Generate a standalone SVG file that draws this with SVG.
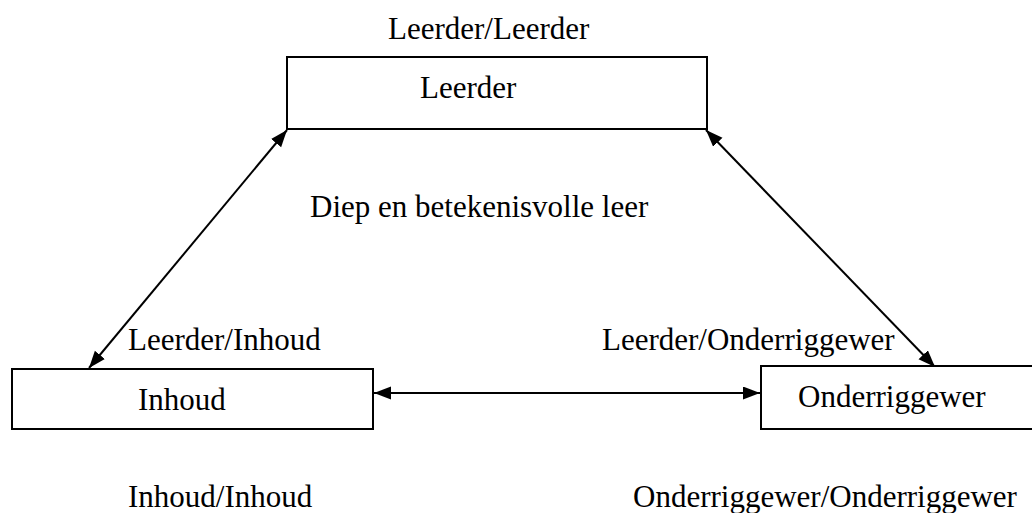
<svg xmlns="http://www.w3.org/2000/svg" width="1032" height="513" viewBox="0 0 1032 513">
  <style>
    text { font-family: "Liberation Serif", "Times New Roman", serif; font-size: 31px; fill: #000; }
    .box { fill: #fff; stroke: #000; stroke-width: 2; }
    .link { stroke: #000; stroke-width: 2; fill: none; marker-start: url(#arrow); marker-end: url(#arrow); }
  </style>
  <defs>
    <marker id="arrow" markerUnits="userSpaceOnUse" markerWidth="18" markerHeight="14" refX="17" refY="6.5" orient="auto-start-reverse">
      <path d="M0,0 L17,6.5 L0,13 z" fill="#000"/>
    </marker>
  </defs>

  <rect width="1032" height="513" fill="#fff"/>

  <!-- connectors -->
  <g id="connectors">
    <line class="link" x1="287" y1="130" x2="89" y2="368"/>
    <line class="link" x1="706" y1="130" x2="935" y2="367"/>
    <line class="link" x1="374" y1="393" x2="760" y2="393"/>
  </g>

  <!-- nodes -->
  <g id="node-leerder">
    <rect class="box" x="287" y="57" width="420" height="72"/>
    <text x="420" y="98">Leerder</text>
  </g>
  <g id="node-inhoud">
    <rect class="box" x="12" y="369" width="361" height="60"/>
    <text x="138" y="410">Inhoud</text>
  </g>
  <g id="node-onderriggewer">
    <rect class="box" x="761" y="366" width="290" height="63"/>
    <text x="798" y="407">Onderriggewer</text>
  </g>

  <!-- labels -->
  <g id="labels">
    <text x="388" y="39">Leerder/Leerder</text>
    <text x="310" y="217">Diep en betekenisvolle leer</text>
    <text x="128" y="350">Leerder/Inhoud</text>
    <text x="602" y="350">Leerder/Onderriggewer</text>
    <text x="128" y="507">Inhoud/Inhoud</text>
    <text x="633" y="507">Onderriggewer/Onderriggewer</text>
  </g>
</svg>
